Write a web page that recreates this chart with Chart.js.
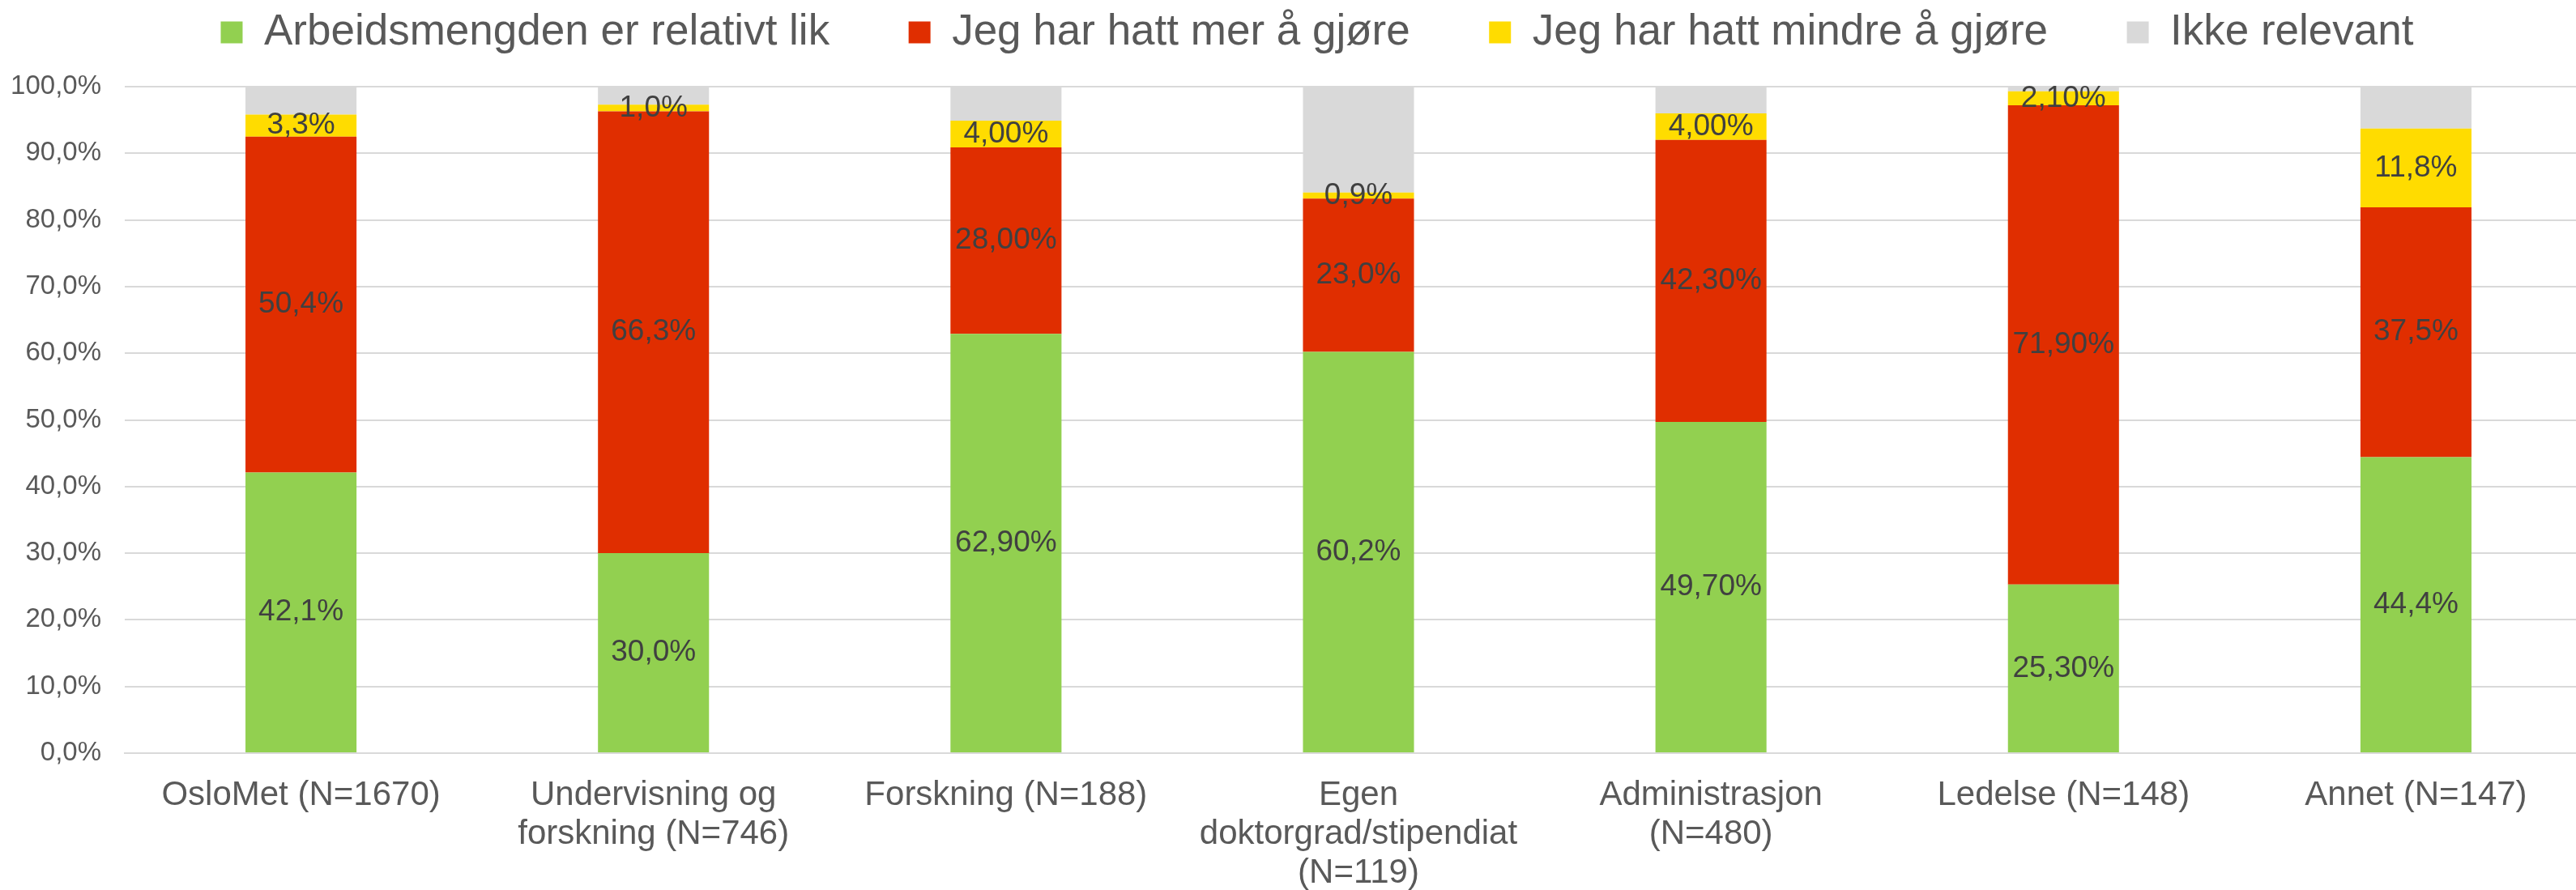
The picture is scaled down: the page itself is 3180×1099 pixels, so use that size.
<!DOCTYPE html>
<html>
<head>
<meta charset="utf-8">
<script src="https://cdn.jsdelivr.net/npm/chart.js@4"></script>
<style>
  html, body { margin: 0; padding: 0; background: #ffffff; width: 3180px; height: 1099px; overflow: hidden; }
  #wrap { width: 3200px; height: 1099px; }
</style>
</head>
<body>
<div id="wrap"><canvas id="chart" width="3200" height="1099"></canvas></div>
<script>
// ---- Data ----
const categories = [
  ['OsloMet (N=1670)'],
  ['Undervisning og', 'forskning (N=746)'],
  ['Forskning (N=188)'],
  ['Egen', 'doktorgrad/stipendiat', '(N=119)'],
  ['Administrasjon', '(N=480)'],
  ['Ledelse (N=148)'],
  ['Annet (N=147)']
];
const seriesNames = [
  'Arbeidsmengden er relativt lik',
  'Jeg har hatt mer å gjøre',
  'Jeg har hatt mindre å gjøre',
  'Ikke relevant'
];
const likValues     = [42.1, 30.0, 62.9, 60.2, 49.7, 25.3, 44.4];
const merValues     = [50.4, 66.3, 28.0, 23.0, 42.3, 71.9, 37.5];
const mindreValues  = [3.3, 1.0, 4.0, 0.9, 4.0, 2.1, 11.8];
const ikkeRelValues = [4.2, 2.7, 5.1, 15.9, 4.0, 0.7, 6.3];
// decimals shown in each category's data labels
const labelDecimals = [1, 1, 2, 1, 2, 2, 1];
const yTickValues = [0, 10, 20, 30, 40, 50, 60, 70, 80, 90, 100];

const FONT = '"Liberation Sans", Arial, sans-serif';

const dataLabels = {
  id: 'dataLabels',
  afterDatasetsDraw(chart) {
    const ctx = chart.ctx;
    ctx.save();
    ctx.font = '37px ' + FONT;
    ctx.fillStyle = '#404040';
    ctx.textAlign = 'center';
    ctx.textBaseline = 'middle';
    chart.data.datasets.forEach((ds, di) => {
      if (!ds.showLabels) return;
      chart.getDatasetMeta(di).data.forEach((el, i) => {
        const v = ds.data[i];
        const txt = v.toFixed(labelDecimals[i]).replace('.', ',') + '%';
        const p = el.getProps(['x', 'y', 'base'], true);
        ctx.fillText(txt, p.x, (p.y + p.base) / 2);
      });
    });
    ctx.restore();
  }
};

const legendLayout = {
  id: 'legendLayout',
  beforeInit(chart) {
    const fit = chart.legend.fit;
    chart.legend.fit = function () { fit.call(this); this.height = 107; };
  },
  afterLayout(chart) {
    chart.legend.top = -84;
    chart.legend.left = 52;
  }
};

new Chart(document.getElementById('chart'), {
  type: 'bar',
  data: {
    labels: categories,
    datasets: [
      { label: seriesNames[0], data: likValues, backgroundColor: '#92d050', showLabels: true },
      { label: seriesNames[1], data: merValues, backgroundColor: '#e02e00', showLabels: true },
      { label: seriesNames[2], data: mindreValues, backgroundColor: '#ffdc00', showLabels: true },
      { label: seriesNames[3], data: ikkeRelValues, backgroundColor: '#d9d9d9', showLabels: false }
    ]
  },
  options: {
    responsive: false,
    animation: false,
    devicePixelRatio: 1,
    layout: { padding: 0 },
    datasets: { bar: { categoryPercentage: 1, barPercentage: 0.315, borderWidth: 0 } },
    plugins: {
      legend: {
        position: 'top',
        align: 'center',
        labels: {
          font: { family: FONT, size: 53 },
          color: '#595959',
          boxWidth: 27,
          boxHeight: 27,
          padding: 97.5
        }
      },
      tooltip: { enabled: false }
    },
    scales: {
      x: {
        stacked: true,
        grid: { display: false, drawTicks: false },
        border: { display: true, color: '#d9d9d9', width: 2 },
        ticks: {
          autoSkip: false,
          maxRotation: 0,
          minRotation: 0,
          padding: 28,
          color: '#595959',
          font: { family: FONT, size: 42, lineHeight: 1.15 }
        },
        afterFit(scale) { scale.height = 169; }
      },
      y: {
        stacked: true,
        min: 0,
        max: 100,
        afterBuildTicks(scale) { scale.ticks = yTickValues.map(v => ({ value: v })); },
        grid: { color: '#d9d9d9', lineWidth: 2, drawTicks: false },
        border: { display: false },
        ticks: {
          padding: 29,
          color: '#595959',
          font: { family: FONT, size: 33 },
          callback: v => v.toFixed(1).replace('.', ',') + '%'
        },
        afterFit(scale) { scale.width = 154; }
      }
    }
  },
  plugins: [dataLabels, legendLayout]
});
</script>
</body>
</html>
